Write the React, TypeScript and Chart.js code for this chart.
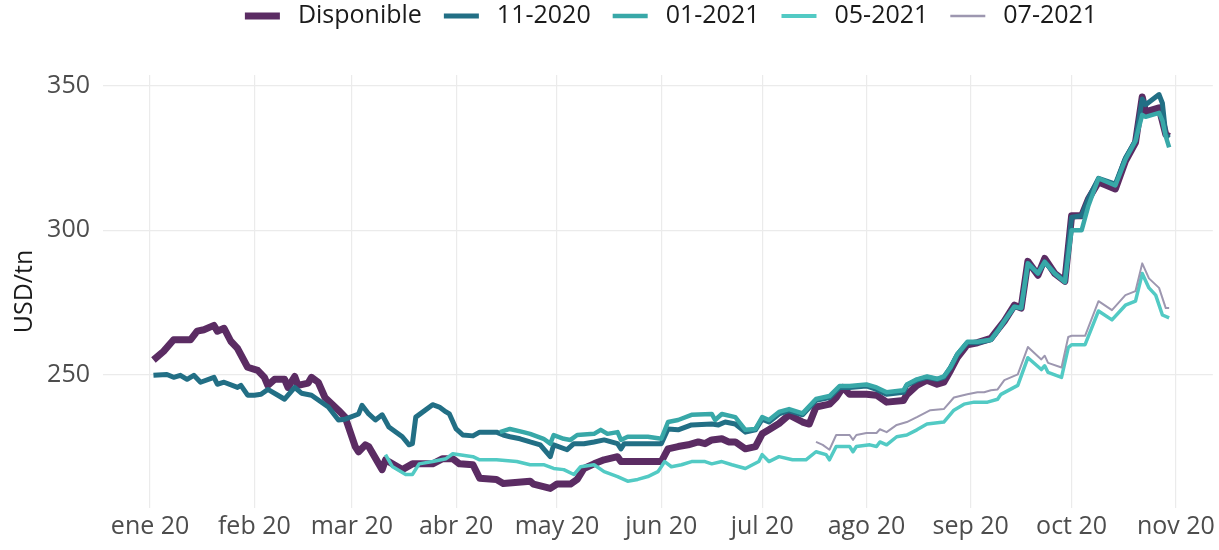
import React, { useEffect, useRef } from "react";
import { Chart, registerables } from "chart.js";

Chart.register(...registerables);

// ---------- DATA ----------
const seriesNames = ["Disponible", "11-2020", "01-2021", "05-2021", "07-2021"];
const seriesColors = ["#5B2C63", "#226F85", "#38A8A8", "#52CAC4", "#9D97B0"];

const monthTicks = ["01-01", "02-01", "03-01", "04-01", "05-01", "06-01", "07-01", "08-01", "09-01", "10-01", "11-01"];
const monthLabels = ["ene 20", "feb 20", "mar 20", "abr 20", "may 20", "jun 20", "jul 20", "ago 20", "sep 20", "oct 20", "nov 20"];
const yTicks = [250, 300, 350];

const dispDates = [
  "01-02", "01-05", "01-08", "01-13", "01-15", "01-17", "01-20", "01-21", "01-23", "01-25", "01-27", "01-30",
  "02-02", "02-04", "02-05", "02-07", "02-10", "02-11", "02-13", "02-14", "02-17", "02-18", "02-20", "02-22", "02-26", "02-28",
  "03-02", "03-03", "03-05", "03-06", "03-09", "03-10", "03-11", "03-16", "03-19", "03-25", "03-28", "03-31",
  "04-02", "04-06", "04-08", "04-13", "04-15", "04-23", "04-24", "04-29",
  "05-01", "05-05", "05-07", "05-09", "05-12", "05-15", "05-19", "05-20",
  "06-01", "06-03", "06-06", "06-09", "06-12", "06-14", "06-16", "06-19", "06-21", "06-23", "06-26", "06-29",
  "07-01", "07-03", "07-06", "07-09", "07-13", "07-15", "07-17", "07-21", "07-23", "07-25", "07-27",
  "08-01", "08-04", "08-07", "08-12", "08-13", "08-16", "08-19", "08-22", "08-24", "08-26", "08-28", "08-31",
  "09-03", "09-07", "09-09", "09-11", "09-14", "09-16", "09-18", "09-21", "09-23", "09-26", "09-29",
  "10-01", "10-04", "10-06", "10-09", "10-14", "10-17", "10-20", "10-22", "10-23", "10-27", "10-29", "10-30",
];
const dispValues = [
  255, 258, 262, 262, 265, 265.5, 267, 265, 266, 261.5, 259, 252.5,
  251.4, 249, 246.2, 248.3, 248.3, 245.5, 249.3, 246.2, 247, 249, 247.3, 242, 237.6, 235.2,
  225, 223.2, 225.6, 225, 219, 217, 220.4, 217, 219, 219, 220.8, 220.8,
  219, 218.7, 214, 213.6, 212.2, 213, 212, 210.5,
  212, 212, 213.6, 217.4, 219, 220.4, 221.5, 219.8,
  219.8, 224.2, 225, 225.6, 226.6, 226, 227.3, 227.7, 226.6, 226.6, 224.2, 225,
  229.4, 230.8, 233, 236, 233.5, 232.8, 238.7, 239.7, 242, 245.5, 243.1,
  243.1, 242.8, 240.4, 241, 243, 246.2, 248, 246.6, 247.3, 251.4, 255.8, 260.3,
  261, 262.5, 265.5, 268.5, 274, 273, 289.2, 284.4, 290.2, 285, 282.3,
  305, 305, 310.8, 316.7, 314.3, 324, 330.4, 346.2, 341, 342.4, 333.2, 332.5,
];

const nov20Dates = [
  "01-02", "01-06", "01-08", "01-10", "01-12", "01-14", "01-16", "01-20", "01-21", "01-23", "01-27", "01-28", "01-30",
  "02-01", "02-03", "02-05", "02-08", "02-10", "02-13", "02-15", "02-18", "02-23", "02-26", "02-28",
  "03-03", "03-04", "03-06", "03-08", "03-10", "03-12", "03-16", "03-18", "03-19", "03-20", "03-25", "03-27", "03-29", "03-30",
  "04-01", "04-03", "04-06", "04-08", "04-13", "04-15", "04-17", "04-20", "04-23", "04-26", "04-29", "04-30",
  "05-04", "05-06", "05-09", "05-12", "05-15", "05-19", "05-20", "05-21",
  "06-01", "06-03", "06-06", "06-10", "06-16", "06-18", "06-20", "06-23", "06-26", "06-29",
  "07-01", "07-03", "07-06", "07-09", "07-13", "07-17", "07-21", "07-24", "07-27",
  "08-01", "08-04", "08-07", "08-12", "08-13", "08-16", "08-19", "08-22", "08-24", "08-26", "08-28", "08-31",
  "09-03", "09-07", "09-09", "09-11", "09-14", "09-16", "09-18", "09-21", "09-23", "09-26", "09-29",
  "10-01", "10-04", "10-06", "10-09", "10-14", "10-17", "10-20", "10-22", "10-23", "10-27", "10-28", "10-29", "10-30",
];
const nov20Values = [
  249.7, 250, 249, 249.7, 248.3, 249.7, 247.3, 249, 246.6, 247.3, 245.5, 246.2, 242.8,
  242.8, 243.1, 244.8, 242.8, 241.4, 245.5, 243.5, 242.8, 238.7, 234.2, 234.5,
  236.3, 239.3, 236.3, 234.2, 236, 231.8, 228.4, 225.6, 226, 235.2, 239.5, 238.7, 237, 236.3,
  231.1, 229, 228.7, 230, 230, 229, 228.4, 227.7, 226.6, 225.6, 221.5, 225.6,
  223.9, 226, 226, 226.6, 227.3, 226, 224.2, 226,
  226, 231.1, 230.8, 232.5, 232.8, 232.5, 233.5, 232.8, 230, 230.8,
  234.5, 233.5, 236.3, 237.5, 236, 241, 242, 245.5, 245.5,
  246, 244.8, 243.1, 243.8, 246.2, 248, 249, 248.3, 249, 252.4, 256.9, 261,
  261, 262, 265.1, 268.5, 273.5, 273, 288.5, 285, 289, 285, 282.3,
  304.5, 305, 311, 318, 316, 325, 331, 345.5, 343.5, 347, 344, 333, 332,
];

const jan21Dates = [
  "04-14", "04-17", "04-21", "04-23", "04-27", "04-29", "04-30",
  "05-03", "05-05", "05-07", "05-12", "05-14", "05-16", "05-19", "05-20", "05-22", "05-28",
  "06-01", "06-03", "06-06", "06-10", "06-16", "06-17", "06-19", "06-23", "06-26", "06-29",
  "07-01", "07-03", "07-06", "07-09", "07-13", "07-17", "07-21", "07-24", "07-27",
  "08-01", "08-04", "08-07", "08-12", "08-13", "08-16", "08-19", "08-22", "08-24", "08-26", "08-28", "08-31",
  "09-03", "09-07", "09-09", "09-11", "09-14", "09-16", "09-18", "09-21", "09-23", "09-26", "09-29",
  "10-01", "10-04", "10-06", "10-09", "10-14", "10-17", "10-20", "10-22", "10-23", "10-27", "10-28", "10-29", "10-30",
];
const jan21Values = [
  230, 231.1, 230, 229.4, 227.7, 226, 229,
  227.7, 227.3, 229, 229.4, 230.8, 229.4, 230, 227.3, 228.4, 228.4,
  227.7, 233.5, 234.2, 236, 236.3, 234.2, 236.3, 235.2, 230.8, 231.1,
  235.2, 234.2, 237, 238, 236.5, 241.5, 242.5, 246, 246,
  246.5, 245.5, 243.8, 244.5, 246.5, 248.3, 249.3, 248.5, 249.3, 252.5, 257, 261.3,
  261.3, 262, 265, 268.5, 273.5, 273, 288.5, 285, 289, 285, 282,
  300, 300, 308.5, 318, 315.5, 324.5, 331, 340, 339.3, 340.7, 338, 332.5, 328.7,
];

const may21Dates = [
  "03-11", "03-13", "03-17", "03-19", "03-21", "03-25", "03-29", "03-31",
  "04-06", "04-08", "04-13", "04-19", "04-23", "04-27", "04-30",
  "05-03", "05-06", "05-08", "05-12", "05-15", "05-19", "05-22", "05-25", "05-28", "05-31",
  "06-01", "06-02", "06-04", "06-07", "06-10", "06-14", "06-16", "06-19", "06-22", "06-26", "06-30",
  "07-01", "07-03", "07-06", "07-10", "07-14", "07-17", "07-20", "07-21", "07-23", "07-27", "07-28", "07-29",
  "08-02", "08-04", "08-05", "08-07", "08-10", "08-13", "08-16", "08-19", "08-24", "08-27", "08-30",
  "09-02", "09-06", "09-09", "09-10", "09-15", "09-18", "09-22", "09-23", "09-24", "09-28", "09-30",
  "10-01", "10-05", "10-09", "10-13", "10-17", "10-20", "10-22", "10-24", "10-26", "10-28", "10-30",
];
const may21Values = [
  222.2, 218.1, 215.3, 215.3, 219, 219.8, 220.8, 222.5,
  221.5, 220.4, 220.4, 219.8, 218.7, 218.7, 217.4,
  217, 215.3, 218, 218.7, 216.3, 214.6, 213, 213.6, 214.6, 216.3,
  218, 219.8, 218, 218.7, 219.8, 219.8, 219, 219.8, 218.7, 217.4, 219.8,
  222.2, 219.8, 221.5, 220.4, 220.4, 223.2, 222.2, 220.4, 225, 225, 223.2, 225,
  225.6, 225, 226.6, 225.6, 228.4, 229, 230.8, 232.8, 233.5, 237.6, 239.7,
  240.4, 240.4, 241.4, 243.1, 246.2, 255.8, 251.7, 253, 250.7, 249, 259.3,
  260.3, 260.3, 272, 268.9, 274, 275.4, 285, 280, 277.5, 270.6, 269.6,
];

const jul21Dates = [
  "07-17", "07-19", "07-21", "07-23", "07-27", "07-28", "07-29",
  "08-01", "08-04", "08-05", "08-07", "08-10", "08-13", "08-16", "08-20", "08-24", "08-27", "08-31",
  "09-03", "09-05", "09-07", "09-09", "09-11", "09-15", "09-18", "09-22", "09-23", "09-24", "09-28", "09-30",
  "10-01", "10-05", "10-09", "10-13", "10-17", "10-20", "10-22", "10-24", "10-27", "10-29", "10-30",
];
const jul21Values = [
  226.6, 225.6, 223.9, 229, 229, 227.3, 229,
  229.7, 229.7, 231, 230, 232.5, 233.5, 235.2, 237.6, 238, 242, 243.1,
  243.8, 243.8, 244.5, 244.8, 248, 250, 259.5, 255.2, 256.5, 254, 252.4, 263,
  263.4, 263.4, 275.4, 272.3, 277.5, 278.9, 288.5, 283.3, 280, 273, 273,
];

// ---------- HELPERS ----------
const DAY_MS = 86400000;
function dayOf(md: string): number {
  const [m, d] = md.split("-").map(Number);
  return (Date.UTC(2020, m - 1, d) - Date.UTC(2020, 0, 1)) / DAY_MS;
}
function toPoints(dates: string[], values: number[]) {
  return dates.map((d, i) => ({ x: dayOf(d), y: values[i] }));
}

const FONT = '"Open Sans", "Noto Sans", sans-serif';
const lineWidths = [7, 5, 4.5, 3.5, 2];
const legendThickness = [7, 5, 4.5, 4, 2.5];

const legendPlugin = {
  id: "ggLegend",
  afterDraw(chart: any) {
    const ctx = chart.ctx as CanvasRenderingContext2D;
    ctx.save();
    ctx.font = `25px ${FONT}`;
    ctx.textBaseline = "middle";
    ctx.textAlign = "left";
    const sw = 35, g1 = 18, g2 = 22;
    const widths = seriesNames.map((n) => ctx.measureText(n).width);
    const total = widths.reduce((a, w) => a + sw + g1 + w, 0) + g2 * (seriesNames.length - 1);
    let x = 671 - total / 2;
    const y = 16;
    seriesNames.forEach((name, i) => {
      const h = legendThickness[i];
      ctx.fillStyle = seriesColors[i];
      ctx.fillRect(x, y - h / 2, sw, h);
      x += sw + g1;
      ctx.fillStyle = "#1a1a1a";
      ctx.fillText(name, x, y);
      x += widths[i] + g2;
    });
    ctx.restore();
  },
};

export default function App() {
  const canvasRef = useRef<HTMLCanvasElement | null>(null);

  useEffect(() => {
    document.body.style.margin = "0";
    document.body.style.overflow = "hidden";
    const canvas = canvasRef.current;
    if (!canvas) return;

    const allSeries = [
      toPoints(dispDates, dispValues),
      toPoints(nov20Dates, nov20Values),
      toPoints(jan21Dates, jan21Values),
      toPoints(may21Dates, may21Values),
      toPoints(jul21Dates, jul21Values),
    ];

    const datasets = allSeries.map((pts, i) => ({
      label: seriesNames[i],
      data: pts,
      borderColor: seriesColors[i],
      backgroundColor: seriesColors[i],
      borderWidth: lineWidths[i],
      pointRadius: 0,
      pointHoverRadius: 0,
      tension: 0,
      fill: false,
      borderJoinStyle: "round" as const,
      borderCapStyle: "butt" as const,
      order: seriesNames.length - i,
    }));

    const tickFont = { family: FONT, size: 25, lineHeight: 1.2 };

    const chart = new Chart(canvas, {
      type: "line",
      data: { datasets },
      plugins: [legendPlugin],
      options: {
        animation: false,
        responsive: false,
        devicePixelRatio: 1,
        layout: { padding: { top: 75, right: 5, bottom: 4, left: 0 } },
        plugins: {
          legend: { display: false },
          tooltip: { enabled: false },
        },
        scales: {
          x: {
            type: "linear",
            min: -14,
            max: 316,
            grid: { color: "#EBEBEB", lineWidth: 1.2, drawTicks: false },
            border: { display: false },
            afterBuildTicks: (scale: any) => {
              scale.ticks = monthTicks.map((m) => ({ value: dayOf(m) }));
            },
            ticks: {
              autoSkip: false,
              maxRotation: 0,
              minRotation: 0,
              padding: 4,
              color: "#4D4D4D",
              font: tickFont,
              callback: (_v: any, i: number) => monthLabels[i],
            },
          },
          y: {
            type: "linear",
            min: 203.7,
            max: 353.8,
            grid: { color: "#EBEBEB", lineWidth: 1.2, drawTicks: false },
            border: { display: false },
            afterBuildTicks: (scale: any) => {
              scale.ticks = yTicks.map((v) => ({ value: v }));
            },
            afterFit: (scale: any) => {
              scale.width = 103;
            },
            ticks: {
              padding: 13,
              color: "#4D4D4D",
              font: tickFont,
              callback: (v: any) => String(v),
            },
            title: {
              display: true,
              text: "USD/tn",
              color: "#1a1a1a",
              font: tickFont,
              padding: { top: 10, bottom: 0 },
            },
          },
        },
      },
    });

    return () => {
      chart.destroy();
    };
  }, []);

  return (
    <div style={{ width: 1219, height: 550 }}>
      <canvas ref={canvasRef} width={1219} height={550} style={{ display: "block" }} />
    </div>
  );
}
